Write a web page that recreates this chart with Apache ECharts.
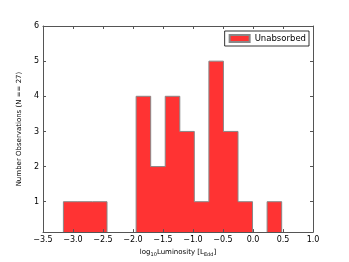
<!DOCTYPE html>
<html><head><meta charset="utf-8">
<script src="https://cdn.jsdelivr.net/npm/echarts@6/dist/echarts.min.js"></script>
<style>html,body{margin:0;padding:0;background:#fff}#c{width:349px;height:262px}</style>
</head><body><div id="c"></div>
<script>
// Histogram bin left edges and counts (N = 27)
var binEdges = [-3.16, -2.918, -2.675, -2.433, -2.19, -1.948, -1.705, -1.463, -1.22, -0.978, -0.735, -0.493, -0.25, -0.008, 0.235, 0.478];
var counts = [1, 1, 1, 0, 0, 4, 2, 4, 3, 1, 5, 3, 1, 0, 1];
var xTicks = [-3.5, -3.0, -2.5, -2.0, -1.5, -1.0, -0.5, 0.0, 0.5, 1.0];
var yTicks = [1, 2, 3, 4, 5, 6];

var pts = [[binEdges[0], 0]];
for (var i = 0; i < counts.length; i++) pts.push([binEdges[i], counts[i]]);
pts.push([binEdges[binEdges.length - 1], counts[counts.length - 1]]);
pts.push([binEdges[binEdges.length - 1], 0]);

var chart = echarts.init(document.getElementById('c'), null, {renderer: 'canvas'});
var tickFont = {fontFamily: 'DejaVu Sans', fontSize: 8, color: '#000'};
function fmtX(v){ var s = Math.abs(v).toFixed(1); return v < 0 ? '\u2212' + s : s; }
chart.setOption({
  animation: false,
  grid: {left: 43, right: 36, top: 26, bottom: 27, containLabel: false},
  legend: {
    data: [{name: 'Unabsorbed', icon: 'rect'}],
    right: 40, top: 31, orient: 'vertical',
    itemWidth: 20, itemHeight: 7, itemGap: 0,
    padding: [3, 3, 3, 4],
    borderColor: '#000', borderWidth: 0.8, backgroundColor: '#fff',
    textStyle: {fontFamily: 'DejaVu Sans', fontSize: 8.5, color: '#000'}
  },
  xAxis: [{
    type: 'value', min: -3.5, max: 1.0, interval: 0.5, z: 5,
    name: '{a|log}{s|10}{a|Luminosity [L}{s|Edd}{a|]}',
    nameLocation: 'middle', nameGap: 14,
    nameTextStyle: {rich: {a: {fontFamily: 'DejaVu Sans', fontSize: 7, color: '#000'}, s: {fontFamily: 'DejaVu Sans', fontSize: 5, color: '#000', verticalAlign: 'bottom', padding: [4, 0, 0, 0]}}},
    axisLine: {show: true, onZero: false, lineStyle: {color: '#555', width: 1}},
    axisTick: {show: true, inside: true, length: 3, lineStyle: {color: '#555'}},
    axisLabel: Object.assign({margin: 4, formatter: fmtX}, tickFont),
    splitLine: {show: false}
  }, {
    type: 'value', min: -3.5, max: 1.0, interval: 0.5, position: 'top', z: 5,
    axisLine: {show: true, onZero: false, lineStyle: {color: '#555', width: 1}},
    axisTick: {show: true, inside: true, length: 3, lineStyle: {color: '#555'}},
    axisLabel: {show: false}, splitLine: {show: false}
  }],
  yAxis: [{
    type: 'value', min: 0.135, max: 6, z: 5,
    name: 'Number Observations (N == 27)',
    nameLocation: 'middle', nameGap: 12, nameRotate: 90,
    nameTextStyle: {fontFamily: 'DejaVu Sans', fontSize: 7, color: '#000'},
    axisLine: {show: true, onZero: false, lineStyle: {color: '#555', width: 1}},
    axisTick: {show: true, inside: true, length: 3, customValues: yTicks, lineStyle: {color: '#555'}},
    axisLabel: Object.assign({margin: 4, customValues: yTicks, formatter: function(v){return String(Math.round(v));}}, tickFont),
    splitLine: {show: false}
  }, {
    type: 'value', min: 0.135, max: 6, position: 'right', z: 5,
    axisLine: {show: true, onZero: false, lineStyle: {color: '#555', width: 1}},
    axisTick: {show: true, inside: true, length: 3, customValues: yTicks, lineStyle: {color: '#555'}},
    axisLabel: {show: false}, splitLine: {show: false}
  }],
  series: [{
    name: 'Unabsorbed', type: 'line', step: 'end', data: pts,
    symbol: 'none', clip: true, z: 2,
    lineStyle: {color: '#888', width: 1},
    itemStyle: {color: '#ff3333', borderColor: '#888', borderWidth: 1},
    areaStyle: {color: '#ff3333', opacity: 1, origin: 'start'}
  }]
});
</script></body></html>
